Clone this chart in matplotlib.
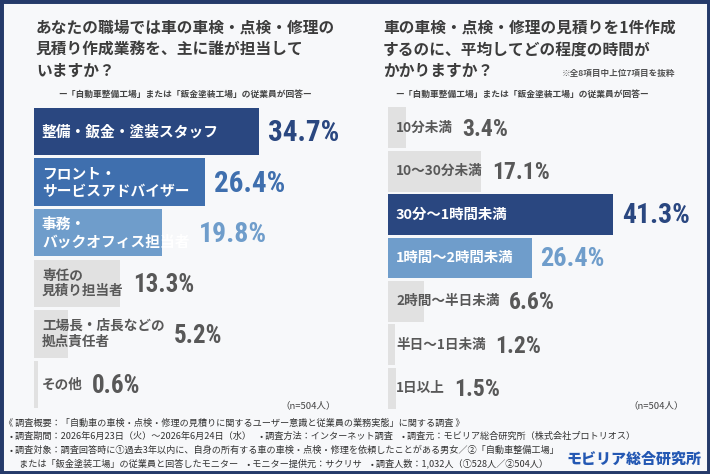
import matplotlib
matplotlib.use('Agg')
import matplotlib.pyplot as plt
from matplotlib.patches import Rectangle
from matplotlib import font_manager as fm

plt.rcParams['font.family'] = ['Noto Sans CJK JP', 'DejaVu Sans']

# ---------------- data ----------------
left_categories = ["整備・鈑金・塗装スタッフ", "フロント・\nサービスアドバイザー",
                   "事務・\nバックオフィス担当者", "専任の\n見積り担当者",
                   "工場長・店長などの\n拠点責任者", "その他"]
left_values = [34.7, 26.4, 19.8, 13.3, 5.2, 0.6]

right_categories = ["10分未満", "10～30分未満", "30分～1時間未満", "1時間～2時間未満",
                    "2時間～半日未満", "半日～1日未満", "1日以上"]
right_values = [3.4, 17.1, 41.3, 26.4, 6.6, 1.2, 1.5]

left_title = ["あなたの職場では車の車検・点検・修理の", "見積り作成業務を、主に誰が担当して", "いますか？"]
right_title = ["車の車検・点検・修理の見積りを1件作成", "するのに、平均してどの程度の時間が", "かかりますか？"]
subtitle = "ー「自動車整備工場」または「鈑金塗装工場」の従業員が回答ー"
right_note = "※全8項目中上位7項目を抜粋"
n_label = "（n=504人）"
footer_lines = [
    "《 調査概要：「自動車の車検・点検・修理の見積りに関するユーザー意識と従業員の業務実態」に関する調査 》",
    "• 調査期間：2026年6月23日（火）～2026年6月24日（水）　• 調査方法：インターネット調査　• 調査元：モビリア総合研究所（株式会社プロトリオス）",
    "• 調査対象：調査回答時に①過去3年以内に、自身の所有する車の車検・点検・修理を依頼したことがある男女／②「自動車整備工場」",
    "　または「鈑金塗装工場」の従業員と回答したモニター　• モニター提供元：サクリサ　• 調査人数：1,032人（①528人／②504人）",
]
logo = "モビリア総合研究所"

# ---------------- styles ----------------
NAVY = "#2a4780"
MID = "#3f6fae"
LIGHT = "#6f9dcb"
GRAY = "#e1e1e1"
TXT = "#3c3c3c"
GTXT = "#585858"

left_bar_colors = [NAVY, MID, LIGHT, GRAY, GRAY, GRAY]
left_lab_colors = ["white", "white", "white", GTXT, GTXT, GTXT]
left_val_colors = [NAVY, MID, LIGHT, GTXT, GTXT, GTXT]
left_lab_sizes = [10.6, 10.6, 10.6, 9.8, 9.8, 9.8]
left_val_sizes = [21, 21, 20, 18, 18, 18]

right_bar_colors = [GRAY, GRAY, NAVY, LIGHT, GRAY, GRAY, GRAY]
right_lab_colors = [GTXT, GTXT, "white", "white", GTXT, GTXT, GTXT]
right_val_colors = [GTXT, GTXT, NAVY, LIGHT, GTXT, GTXT, GTXT]
right_lab_sizes = [9.8, 9.8, 10.4, 10.4, 9.8, 9.8, 9.8]
right_val_sizes = [17, 17, 20, 19, 17, 17, 17]


def pick_num_font():
    names = {f.name for f in fm.fontManager.ttflist}
    for cand in ['Liberation Sans Narrow', 'Roboto Condensed', 'Open Sans Condensed',
                 'DejaVu Sans Condensed', 'Noto Sans Condensed']:
        if cand in names:
            return dict(family=cand), 1.0
    for f in fm.fontManager.ttflist:
        if f.name == 'DejaVu Sans' and 'condensed' in str(f.stretch):
            return dict(family='DejaVu Sans', stretch='condensed'), 0.95
    return dict(family='Roboto'), 0.88


NUMKW, NUMSCALE = pick_num_font()

W, H = 710, 474
fig = plt.figure(figsize=(W / 100, H / 100), dpi=100)
fig.patch.set_facecolor("#f7f8fa")


def fx(x):
    return x / W


def fy(y):
    return 1 - y / H


# border
fig.patches.append(Rectangle((0, 0), 1, 1, transform=fig.transFigure, fill=False,
                             edgecolor="#253a6a", linewidth=5, zorder=10))


def draw_panel(ax_rect, cats, vals, bar_colors, lab_colors, val_colors, lab_sizes, val_sizes,
               height):
    x0, y0, x1, y1 = ax_rect
    ax = fig.add_axes([fx(x0), fy(y1), fx(x1 - x0), (y1 - y0) / H])
    ax.set_xlim(0, 50)
    n = len(cats)
    ax.set_ylim(n - 0.5, -0.5)
    ax.axis('off')
    ypos = list(range(n))
    ax.barh(ypos, vals, height=height, color=bar_colors, zorder=1)
    fig.canvas.draw()
    renderer = fig.canvas.get_renderer()
    inv = ax.transData.inverted()
    px_per_unit = ax.transData.transform((1, 0))[0] - ax.transData.transform((0, 0))[0]
    for i, (c, v) in enumerate(zip(cats, vals)):
        lab = ax.text(8 / px_per_unit, i, c, ha='left', va='center', fontsize=lab_sizes[i],
                      color=lab_colors[i], fontweight='bold', linespacing=1.15, zorder=3)
        ext = lab.get_window_extent(renderer=renderer)
        lab_end = inv.transform((ext.x1, 0))[0]
        xv = max(v, lab_end) + 9 / px_per_unit
        ax.text(xv, i + 0.03, f"{v:.1f}%", ha='left', va='center',
                fontsize=val_sizes[i] * NUMSCALE, color=val_colors[i],
                fontweight='bold', zorder=3, **NUMKW)
    return ax


draw_panel((34, 106, 358, 410), left_categories, left_values, left_bar_colors,
           left_lab_colors, left_val_colors, left_lab_sizes, left_val_sizes, 0.93)
draw_panel((388, 106, 660, 410), right_categories, right_values, right_bar_colors,
           right_lab_colors, right_val_colors, right_lab_sizes, right_val_sizes, 0.94)

# titles
title_y = [27.5, 49.5, 70.5]
for t, yy in zip(left_title, title_y):
    fig.text(fx(36), fy(yy), t, ha='left', va='center', fontsize=11.3,
             fontweight='bold', color=TXT)
for t, yy in zip(right_title, title_y):
    fig.text(fx(383), fy(yy), t, ha='left', va='center', fontsize=11.3,
             fontweight='bold', color=TXT)
fig.text(fx(675), fy(73), right_note, ha='right', va='center', fontsize=6.2,
         fontweight='bold', color="#555555")
fig.text(fx(185), fy(94), subtitle, ha='center', va='center', fontsize=6.3,
         fontweight='bold', color="#444444")
fig.text(fx(522), fy(94), subtitle, ha='center', va='center', fontsize=6.3,
         fontweight='bold', color="#444444")
fig.text(fx(336), fy(406), n_label, ha='right', va='center', fontsize=6.8, color="#444444")
fig.text(fx(684), fy(406), n_label, ha='right', va='center', fontsize=6.8, color="#444444")

# footer
foot_y = [423, 436.5, 450, 463.5]
foot_x = [4, 10, 10, 10]
for t, yy, xx in zip(footer_lines, foot_y, foot_x):
    fig.text(fx(xx), fy(yy), t, ha='left', va='center', fontsize=6.6, color="#333333")

fig.text(fx(701), fy(459), logo, ha='right', va='center', fontsize=10.8,
         fontweight='heavy', color="#2458b3")

fig.savefig("out.png", dpi=100, facecolor=fig.get_facecolor())
